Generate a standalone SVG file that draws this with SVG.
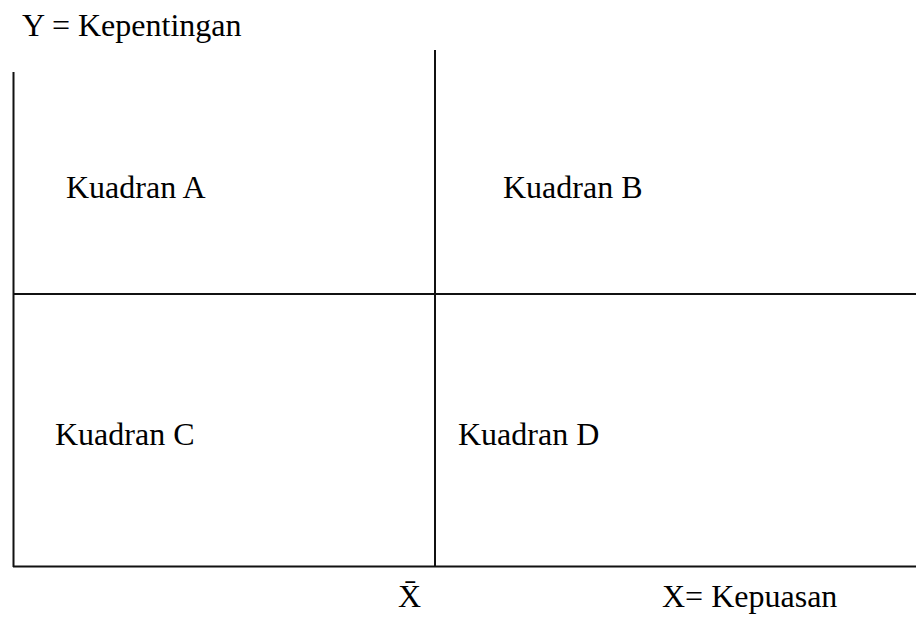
<svg xmlns="http://www.w3.org/2000/svg" width="916" height="617" viewBox="0 0 916 617">
<style>
text{font-family:'Liberation Serif','Times New Roman',serif;font-size:32px;fill:#000}
.ax{stroke:#111;stroke-width:2;fill:none}
</style>
<rect width="916" height="617" fill="#fff"/>
<g id="connectors">
<line class="ax" x1="13.5" y1="72" x2="13.5" y2="567"/>
<line class="ax" x1="435" y1="50" x2="435" y2="566"/>
<line class="ax" x1="13" y1="294" x2="916" y2="294"/>
<line class="ax" x1="13" y1="566.5" x2="916" y2="566.5"/>
</g>
<g id="y-label"><text x="22" y="36">Y = Kepentingan</text></g>
<g id="kuadran-a"><text x="66" y="198">Kuadran A</text></g>
<g id="kuadran-b"><text x="503" y="198">Kuadran B</text></g>
<g id="kuadran-c"><text x="55" y="445">Kuadran C</text></g>
<g id="kuadran-d"><text x="458" y="445">Kuadran D</text></g>
<g id="x-bar"><text x="398" y="607">X&#x304;</text></g>
<g id="x-label"><text x="662" y="607">X= Kepuasan</text></g>
</svg>
